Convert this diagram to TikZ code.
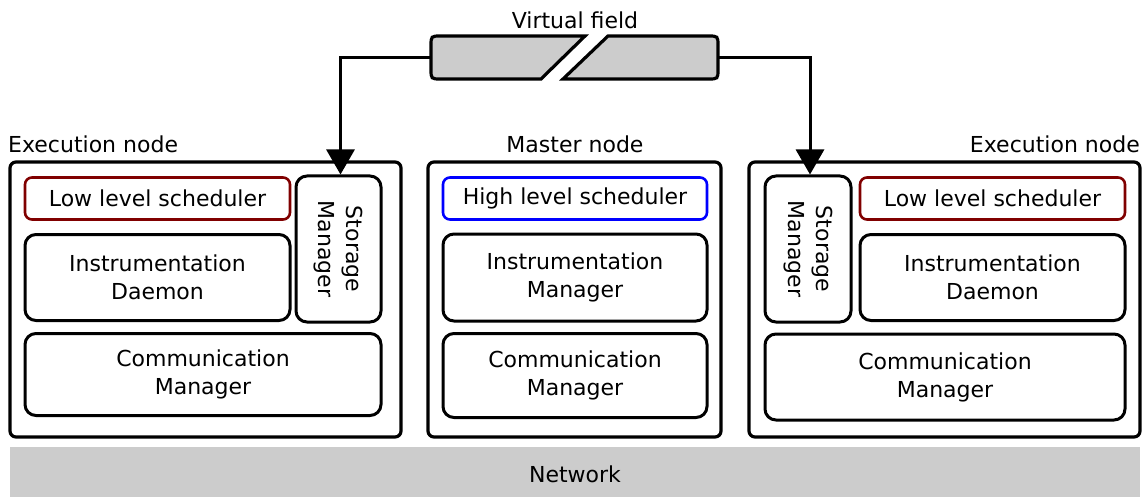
\documentclass[tikz,border=0pt]{standalone}
\usepackage{fontspec}
\setmainfont{DejaVu Sans}
\usetikzlibrary{arrows.meta}
\definecolor{netgray}{HTML}{CCCCCC}
\definecolor{lowred}{HTML}{800000}
\definecolor{highblue}{HTML}{0000FF}
\begin{document}
\begin{tikzpicture}[x=1pt,y=-1pt,
  font=\fontsize{22}{28}\selectfont,
  outerbox/.style={draw, line width=3.2pt, rounded corners=6pt, inner sep=0pt},
  box/.style={draw, line width=3pt, rounded corners=11pt, align=center, inner sep=0pt},
  redbox/.style={box, draw=lowred, line width=2.6pt, rounded corners=7pt},
  bluebox/.style={box, draw=highblue, line width=2.6pt, rounded corners=7pt},
  lbl/.style={inner sep=0pt},
  conn/.style={line width=3pt, -{Triangle[length=25pt,width=28pt]}},
  field/.style={draw, fill=netgray, line width=3.2pt, line join=miter}
]
\useasboundingbox (0,0) rectangle (1148,497);

% Network
\node[fill=netgray, inner sep=0pt, minimum width=1130pt, minimum height=50pt] (net) at (575,472) {};
\node[lbl] (netlbl) at (575,474) {Network};

% Outer boxes
\node[outerbox, minimum width=391pt, minimum height=275pt] (execL) at (205.5,299.5) {};
\node[outerbox, minimum width=293pt, minimum height=275pt] (master) at (574.5,299.5) {};
\node[outerbox, minimum width=391pt, minimum height=275pt] (execR) at (944.5,299.5) {};

% Labels
\node[lbl, anchor=west] (execLlbl) at (8,144) {Execution node};
\node[lbl] (masterlbl) at (575,144) {Master node};
\node[lbl, anchor=east] (execRlbl) at (1140,144) {Execution node};
\node[lbl] (vflbl) at (575,20) {Virtual field};

% Left execution node
\node[redbox, minimum width=265pt, minimum height=42pt] (llsL) at (157.5,198.5) {Low level scheduler};
\node[box, minimum width=85pt, minimum height=146pt] (smL) at (338.5,249) {};
\node[rotate=-90, align=center, inner sep=0pt] (smLt) at (smL.center) {Storage\\Manager};
\node[box, minimum width=265pt, minimum height=86pt] (idL) at (157.5,277.5) {Instrumentation\\Daemon};
\node[box, minimum width=356pt, minimum height=82pt] (cmL) at (203,374.5) {Communication\\Manager};

% Master node
\node[bluebox, minimum width=264pt, minimum height=42pt] (hls) at (575,198.5) {High level scheduler};
\node[box, minimum width=264pt, minimum height=87pt] (im) at (575,277.5) {Instrumentation\\Manager};
\node[box, minimum width=264pt, minimum height=84pt] (cmM) at (575,375.5) {Communication\\Manager};

% Right execution node
\node[box, minimum width=86pt, minimum height=146pt] (smR) at (808,249) {};
\node[rotate=-90, align=center, inner sep=0pt] (smRt) at (smR.center) {Storage\\Manager};
\node[redbox, minimum width=265pt, minimum height=42pt] (llsR) at (992.5,198.5) {Low level scheduler};
\node[box, minimum width=265pt, minimum height=86pt] (idR) at (992.5,277.5) {Instrumentation\\Daemon};
\node[box, minimum width=360pt, minimum height=86pt] (cmR) at (945,377) {Communication\\Manager};

% Virtual field
\draw[field] (441,79) .. controls (431,79) .. (431,69) -- (431,46) .. controls (431,36) .. (441,36) -- (585,36) -- (541,79) -- cycle;
\draw[field] (608,36) -- (708,36) .. controls (718,36) .. (718,46) -- (718,69) .. controls (718,79) .. (708,79) -- (563,79) -- cycle;
\coordinate (vfL) at (431,58);
\coordinate (vfR) at (718,58);

% Connectors
\draw[conn] (vfL) -| ([xshift=2pt]smL.north);
\draw[conn] (vfR) -| ([xshift=2pt]smR.north);
\end{tikzpicture}
\end{document}
